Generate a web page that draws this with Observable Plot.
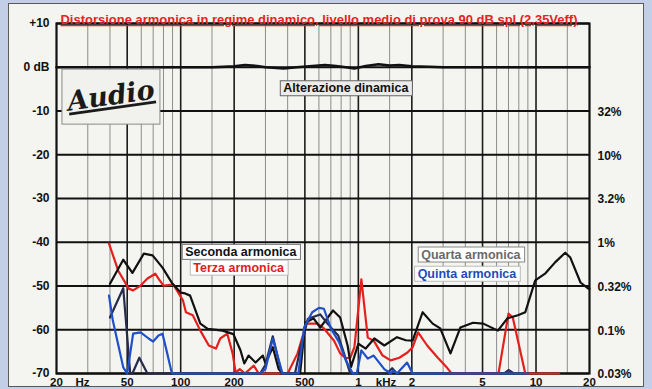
<!DOCTYPE html>
<html>
<head>
<meta charset="utf-8">
<script src="https://cdn.jsdelivr.net/npm/d3@7"></script>
<script src="https://cdn.jsdelivr.net/npm/@observablehq/plot@0.6"></script>
<style>
  html, body { margin: 0; padding: 0; }
  body { width: 652px; height: 389px; background: #c2cfe6; position: relative; overflow: hidden; }
  #panel { position: absolute; left: 8px; top: 3px; width: 634px; height: 382px; background: #f4f4f1; border: 1px solid #5a5a5a; }
  #chart { position: absolute; left: 0; top: 0; }
</style>
</head>
<body>
<div id="panel"></div>
<div id="chart"></div>
<script>
// Harmonic distortion under dynamic drive: level in dB (left) / % (right) vs frequency (Hz)
const title = "Distorsione armonica in regime dinamico, livello medio di prova 90 dB spl (2,35Veff)";

const dbTicks = [10, 0, -10, -20, -30, -40, -50, -60, -70];
const dbLabels = ["+10", "0 dB", "-10", "-20", "-30", "-40", "-50", "-60", "-70"];
const pctTicks = [-10, -20, -30, -40, -50, -60, -70];
const pctLabels = ["32%", "10%", "3.2%", "1%", "0.32%", "0.1%", "0.03%"];

const freqMajor = [50, 100, 200, 500, 1000, 2000, 5000, 10000];
const freqMinor = [30, 40, 60, 70, 80, 90, 150, 300, 400, 600, 700, 800, 900, 1500, 3000, 4000, 6000, 7000, 8000, 9000, 15000];
const freqTickValues = [20, 28, 50, 100, 200, 500, 1000, 1430, 2000, 5000, 10000, 20000];
const freqTickLabels = ["20", "Hz", "50", "100", "200", "500", "1", "kHz", "2", "5", "10", "20"];

// [frequency Hz, level dB]
const alterazione = [[20, 0], [150, 0], [200, 0.2], [230, 0.5], [270, 0.3], [300, 0], [380, -0.3], [450, 0],
  [550, 0.3], [650, 0.5], [750, 0.3], [850, 0], [950, -0.3], [1100, 0.3], [1300, 0.7], [1500, 0.4],
  [1700, 0.5], [2000, 0.2], [2500, 0.1], [3000, 0], [20000, 0]];

const seconda = [[40, -49.5], [47.5, -44], [53.5, -47], [62, -42.6], [69.5, -43], [79, -45.8], [90, -49.5],
  [100, -51.5], [106, -51.7], [113, -52.2], [129, -58.6], [142, -59.8], [172, -60.2], [198, -61], [217, -64.7],
  [228, -67.7], [241, -65.9], [264, -67.5], [290, -65.9], [300, -67.7], [330, -64], [356, -69], [374, -70],
  [470, -70], [503, -58.4], [560, -57.4], [610, -59.5], [720, -55.6], [790, -57.2], [870, -63.6], [910, -68.5],
  [1000, -63.2], [1100, -64.3], [1230, -62], [1400, -63.6], [1650, -61.7], [1850, -62.4], [2020, -62.5],
  [2300, -56], [2620, -58.6], [2890, -59.7], [3300, -65.4], [3750, -59.5], [4420, -58.4], [5050, -58.6],
  [6100, -60.2], [6900, -57.4], [7900, -56.7], [8700, -56], [9900, -48.7], [11300, -47.1], [12800, -44.6],
  [14600, -42.4], [15600, -43.5], [17800, -49.2], [19700, -50.6], [20000, -50.6]];

const terza = [[39.5, -40.3], [44.5, -46.5], [51, -50.6], [54, -51], [59.5, -49.9], [65, -48.3], [72, -47.2],
  [75, -48.3], [80, -49.9], [91, -49.7], [103, -53.3], [107, -56], [117, -56.7], [129, -60.2], [144, -63.6],
  [158, -64.3], [167, -62], [183, -60.9], [196, -65.4], [204, -69.8], [215, -69], [230, -70], [258, -68.2],
  [275, -70], [400, -70], [455, -65.4], [510, -58.6], [590, -58.6], [640, -59.7], [730, -62.5], [790, -65.4],
  [850, -66.5], [900, -66.4], [950, -64], [1040, -48.5], [1130, -61.8], [1220, -62.5], [1370, -65.9],
  [1520, -67], [1700, -66.4], [1890, -65.2], [2020, -64], [2170, -60.6], [2440, -63.6], [2800, -66.4],
  [3160, -68.7], [3350, -70], [6150, -70], [7000, -56.3], [7400, -57.2], [8700, -70], [13500, -70]];

const quarta = [[40, -57.2], [47.5, -50.5], [52, -70], [53.5, -70], [58.5, -66.4], [65, -70], [280, -70],
  [300, -68], [330, -61.5], [370, -70], [440, -70], [473, -64], [520, -57.5], [610, -56.5], [670, -58.6],
  [770, -61.3], [830, -65.4], [900, -70], [1450, -70], [1550, -68.8], [1650, -70], [6600, -70], [7000, -69.2],
  [7500, -70]];

const quinta = [[39.5, -52.2], [41.5, -57.9], [44, -62.5], [47.5, -68.6], [50, -70], [54, -60.9], [59.5, -60.6],
  [66, -62], [70, -62.7], [75, -61.3], [79, -60.9], [84, -65.4], [89, -69.8], [92, -70], [280, -70], [300, -69],
  [330, -62], [374, -70], [460, -70], [495, -59.5], [550, -56], [600, -55], [640, -55.2], [700, -59.7],
  [780, -62.9], [850, -67], [930, -70], [980, -70], [1040, -64.7], [1130, -66.6], [1220, -65.9], [1400, -69],
  [1520, -70], [1570, -69.3], [1650, -70], [1880, -67.5], [2020, -70], [9000, -70]];

// legend / annotation labels, anchored in data space [frequency, dB]
const legendItems = [
  {f: 218, db: -42.2, text: "Seconda armonica", color: "#111111", border: "#777"},
  {f: 212, db: -45.8, text: "Terza armonica", color: "#e01d1d", border: "#bbb"},
  {f: 4300, db: -42.8, text: "Quarta armonica", color: "#6a6a6a", border: "#888"},
  {f: 4085, db: -47.2, text: "Quinta armonica", color: "#1f4bb8", border: "#bbb"},
  {f: 850, db: -4.8, text: "Alterazione dinamica", color: "#111111", border: "#666"}
];

const FONT = "Liberation Sans, Arial, Helvetica, sans-serif";
const X = d => d[0], Y = d => d[1];
const lineOpts = (stroke) => ({x: X, y: Y, stroke, strokeWidth: 2.2, strokeLinejoin: "round", strokeLinecap: "round"});

const chart = Plot.plot({
  width: 652,
  height: 389,
  marginLeft: 56,
  marginRight: 63,
  marginTop: 23,
  marginBottom: 16,
  style: {background: "transparent", fontFamily: FONT, overflow: "visible"},
  x: {type: "log", domain: [20, 20000], axis: null},
  y: {domain: [-70, 10], axis: null},
  marks: [
    Plot.ruleX(freqMinor, {stroke: "#8c8c8c", strokeWidth: 1}),
    Plot.ruleX(freqMajor, {stroke: "#1c1c1c", strokeWidth: 1.6}),
    Plot.ruleY(dbTicks, {stroke: "#111", strokeWidth: 2}),
    Plot.frame({stroke: "#111", strokeWidth: 2.2}),
    Plot.line(alterazione, {x: X, y: Y, stroke: "#111", strokeWidth: 2.6}),
    Plot.line(terza, lineOpts("#e3201c")),
    Plot.line(seconda, lineOpts("#111111")),
    Plot.line(quarta, lineOpts("#262b4c")),
    Plot.line(quinta, lineOpts("#1f50c8")),
    // title
    Plot.text([title], {text: d => d, frameAnchor: "top-left", dx: 4, dy: -8, textAnchor: "start",
      fill: "#e8221e", fontWeight: "bold", fontSize: 12}),
    // left dB labels
    Plot.text(dbTicks, {y: d => d, text: (d, i) => dbLabels[i], frameAnchor: "left", dx: -7, textAnchor: "end",
      fontWeight: "bold", fontSize: 12, fill: "#111"}),
    // right percentage labels
    Plot.text(pctTicks, {y: d => d, text: (d, i) => pctLabels[i], frameAnchor: "right", dx: 8, dy: 1, textAnchor: "start",
      fontWeight: "bold", fontSize: 12, fill: "#111"}),
    // frequency labels
    Plot.text(freqTickValues, {x: d => d, y: -70, text: (d, i) => freqTickLabels[i], dy: 9,
      fontWeight: "bold", fontSize: 11.5, fill: "#111"}),
    // series legends
    Plot.text(legendItems, {x: "f", y: "db", text: "text", fill: "color", fontWeight: "bold", fontSize: 12.5}),
    // logo
    Plot.text(["Audio"], {text: d => d, x: 40.5, y: -6.6, fontFamily: "DejaVu Serif", fontStyle: "italic",
      fontWeight: "bold", fontSize: 27, fill: "#1a1a1a", rotate: -8})
  ]
});

document.getElementById("chart").appendChild(chart);

// boxes behind the legend labels, title styling
const svg = d3.select(chart);
svg.selectAll("text").each(function() {
  const t = this.textContent;
  if (t === title) {
    this.setAttribute("textLength", 517);
    this.setAttribute("lengthAdjust", "spacingAndGlyphs");
    this.style.textDecoration = "underline";
  }
  const item = legendItems.find(d => d.text === t);
  if (item) {
    const b = this.getBBox();
    const r = document.createElementNS("http://www.w3.org/2000/svg", "rect");
    r.setAttribute("x", b.x - 3);
    r.setAttribute("y", b.y - 0.5);
    r.setAttribute("width", b.width + 6);
    r.setAttribute("height", b.height + 1);
    r.setAttribute("fill", t === "Alterazione dinamica" ? "#ececea" : "#ffffff");
    r.setAttribute("stroke", item.border);
    r.setAttribute("stroke-width", 1);
    if (this.getAttribute("transform")) r.setAttribute("transform", this.getAttribute("transform"));
    this.parentNode.insertBefore(r, this);
  }
  if (t === "Audio") {
    // framed logo tile
    const g = this.parentNode;
    const tr = this.getAttribute("transform") || "";
    const m = /translate\(([-\d.]+),\s*([-\d.]+)\)/.exec(tr);
    const cx = m ? +m[1] : +this.getAttribute("x");
    const cy = m ? +m[2] : +this.getAttribute("y");
    const r = document.createElementNS("http://www.w3.org/2000/svg", "rect");
    r.setAttribute("x", cx - 49);
    r.setAttribute("y", cy - 27);
    r.setAttribute("width", 98);
    r.setAttribute("height", 55);
    r.setAttribute("fill", "#f1f1ee");
    r.setAttribute("stroke", "#8a8a8a");
    g.insertBefore(r, this);
    this.style.textDecoration = "underline";
  }
});
</script>
</body>
</html>
